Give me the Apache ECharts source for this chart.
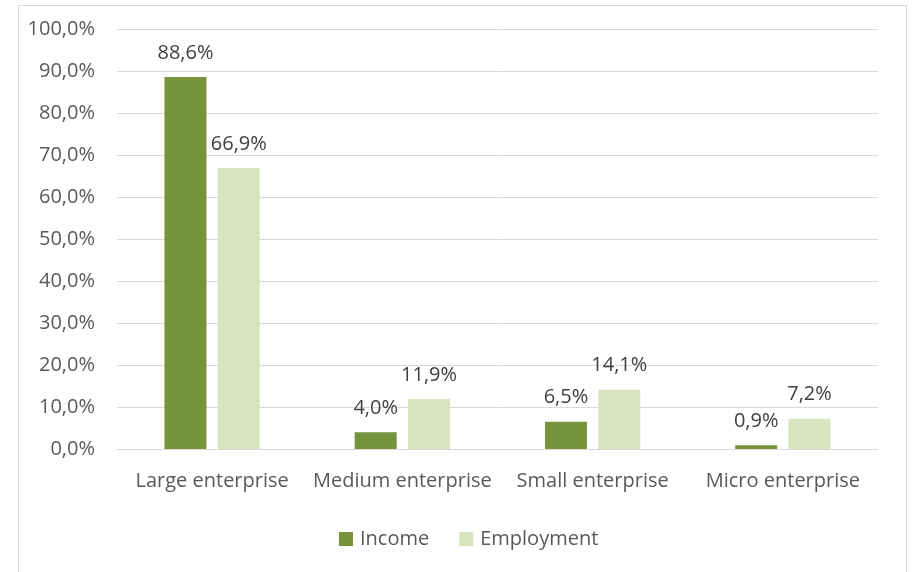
<!DOCTYPE html>
<html style="height: 100%">
<head>
<meta charset="utf-8">
<script src="https://cdn.jsdelivr.net/npm/echarts@6/dist/echarts.min.js"></script>
</head>
<body style="height: 100%; margin: 0; background: #fff">
<div id="frame" style="position:absolute; left:18px; top:5px; width:889px; height:580px; border:1px solid #d9d9d9; box-sizing:border-box"></div>
<div id="container" style="position:absolute; left:0; top:0; width:912px; height:572px"></div>
<script type="text/javascript">
var categories = ['Large enterprise', 'Medium enterprise', 'Small enterprise', 'Micro enterprise'];
var income = [88.6, 4.0, 6.5, 0.9];
var employment = [66.9, 11.9, 14.1, 7.2];

var fmt = function (v) { return v.toFixed(1).replace('.', ',') + '%'; };
var font = '"Open Sans", "Noto Sans", sans-serif';

var chart = echarts.init(document.getElementById('container'));
var labelStyle = {
    show: true,
    position: 'top',
    distance: 14,
    color: '#404040',
    fontSize: 20,
    fontFamily: font,
    formatter: function (p) { return fmt(p.value); }
};

option = {
    backgroundColor: 'transparent',
    animation: false,
    grid: { left: 117, right: 34, top: 29, bottom: 123, containLabel: false },
    legend: {
        data: ['Income', 'Employment'],
        top: 524,
        left: 334,
        itemWidth: 14,
        itemHeight: 14,
        itemGap: 30,
        icon: 'rect',
        textStyle: { color: '#595959', fontSize: 20, fontFamily: font, padding: [0, 0, 0, 2] }
    },
    xAxis: {
        type: 'category',
        data: categories,
        axisLine: { lineStyle: { color: '#d9d9d9', width: 1 } },
        axisTick: { show: false },
        axisLabel: { color: '#595959', fontSize: 20, fontFamily: font, margin: 22, interval: 0 }
    },
    yAxis: {
        type: 'value',
        min: 0,
        max: 100,
        interval: 10,
        axisLine: { show: false },
        axisTick: { show: false },
        splitLine: { lineStyle: { color: '#d9d9d9', width: 1 } },
        axisLabel: { color: '#595959', fontSize: 20, fontFamily: font, margin: 22, formatter: fmt }
    },
    series: [
        {
            name: 'Income',
            type: 'bar',
            data: income,
            barWidth: 42,
            barGap: '27%',
            itemStyle: { color: '#77933c' },
            label: labelStyle
        },
        {
            name: 'Employment',
            type: 'bar',
            data: employment,
            barWidth: 42,
            itemStyle: { color: '#d7e4bd' },
            label: labelStyle
        }
    ]
};
chart.setOption(option);
</script>
</body>
</html>
